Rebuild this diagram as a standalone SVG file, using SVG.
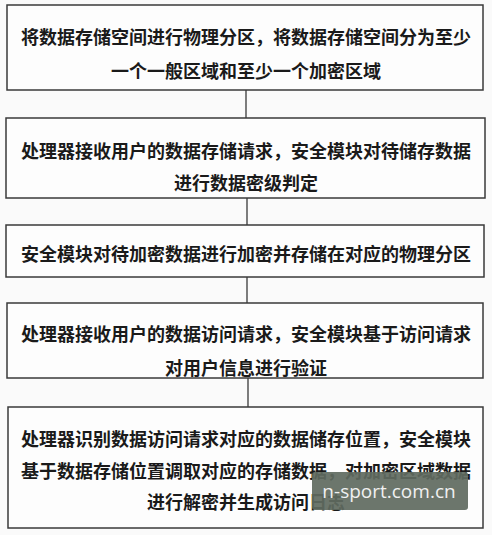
<svg xmlns="http://www.w3.org/2000/svg" width="492" height="535" viewBox="0 0 492 535">
<style>
.box{fill:#fdfdfd;stroke:#3a3a3a;stroke-width:1.5}
.t{font-family:"Noto Sans CJK SC","Noto Sans CJK TC",sans-serif;font-size:18px;font-weight:bold;fill:#1a1a1a;text-anchor:middle;dominant-baseline:central}
.c{stroke:#3a3a3a;stroke-width:1.3;fill:none}
</style>
<rect width="492" height="535" fill="#fafafa"/>
<g id="connectors">
<line class="c" x1="246" y1="90" x2="246" y2="118"/>
<line class="c" x1="247" y1="198" x2="247" y2="225"/>
<line class="c" x1="247" y1="277" x2="247" y2="303"/>
<line class="c" x1="248" y1="378" x2="248" y2="407"/>
</g>
<g id="n1">
<rect class="box" x="7" y="5" width="476" height="85"/>
<text class="t" x="246" y="36">将数据存储空间进行物理分区，将数据存储空间分为至少</text>
<text class="t" x="246" y="70">一个一般区域和至少一个加密区域</text>
</g>
<g id="n2">
<rect class="box" x="6" y="118" width="479" height="80"/>
<text class="t" x="246" y="150">处理器接收用户的数据存储请求，安全模块对待储存数据</text>
<text class="t" x="246" y="182">进行数据密级判定</text>
</g>
<g id="n3">
<rect class="box" x="6" y="225" width="478" height="52"/>
<text class="t" x="246" y="253">安全模块对待加密数据进行加密并存储在对应的物理分区</text>
</g>
<g id="n4">
<rect class="box" x="7" y="303" width="476" height="75"/>
<text class="t" x="246" y="333">处理器接收用户的数据访问请求，安全模块基于访问请求</text>
<text class="t" x="246" y="367">对用户信息进行验证</text>
</g>
<g id="n5">
<rect class="box" x="8" y="407" width="475" height="121"/>
<text class="t" x="246" y="438">处理器识别数据访问请求对应的数据储存位置，安全模块</text>
<text class="t" x="246" y="470">基于数据存储位置调取对应的存储数据，对加密区域数据</text>
<text class="t" x="246" y="501">进行解密并生成访问日志</text>
</g>
<g id="watermark">
<rect x="312" y="472" width="156" height="38" rx="3" fill="#5f6a5f" fill-opacity="0.92"/>
<text x="389" y="491" font-family="'Open Sans','DejaVu Sans',sans-serif" font-size="19" fill="#f0f0f0" text-anchor="middle" dominant-baseline="central">n-sport.com.cn</text>
</g>
</svg>
